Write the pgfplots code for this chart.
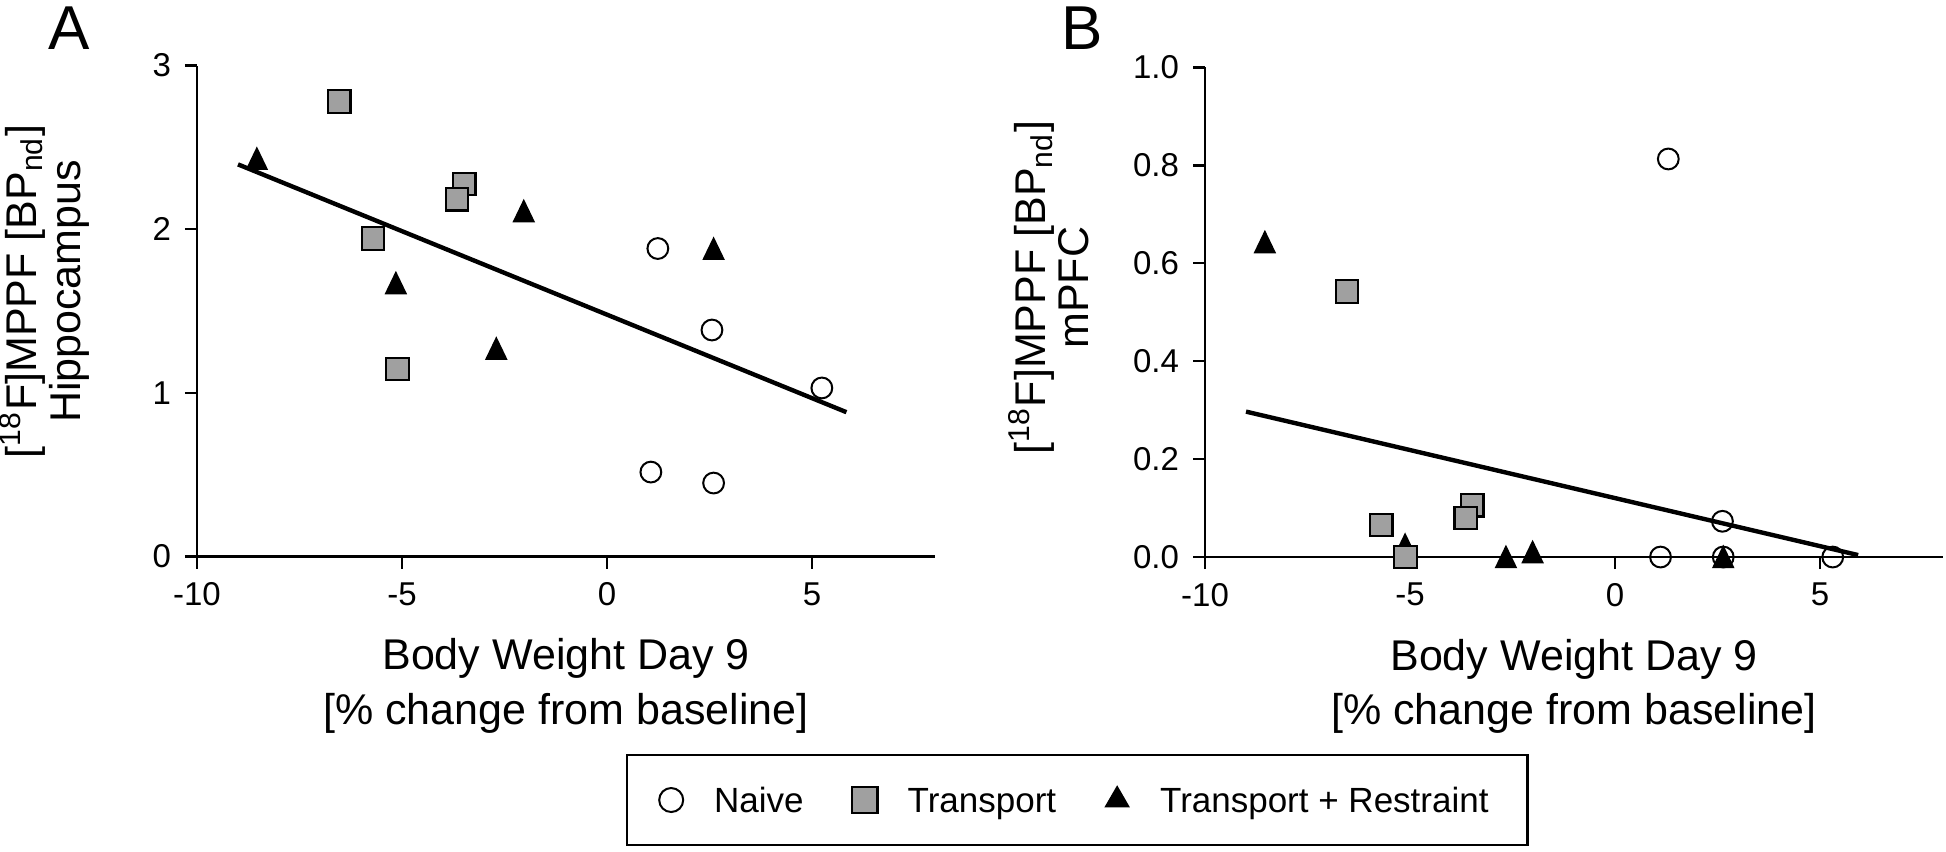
\documentclass[border=0pt]{standalone}
\usepackage{fontspec}
\setmainfont{Liberation Sans}
\usepackage{pgfplots}
\pgfplotsset{compat=1.18}
\definecolor{markgray}{RGB}{160,160,160}

\pgfplotsset{
  bwaxis/.style={
    scale only axis, width=184.5pt,
    xmin=-10, xmax=8, enlargelimits=false,
    axis lines*=left, axis line style={line width=0.6pt},
    tick align=outside, major tick length=3pt,
    tick style={black, line width=0.6pt},
    xtick={-10,-5,0,5}, xticklabels={-10,-5,0,5},
    ticklabel style={font=\fontsize{8.25}{9}\selectfont},
    clip=false,
    xlabel={Body Weight Day 9\\{[}\% change from baseline{]}},
    xlabel style={at={(axis description cs:0.5,-0.166)}, anchor=north,
      align=center, inner sep=0pt, font=\fontsize{10.75}{13.5}\selectfont},
    ylabel style={anchor=south, align=center, inner sep=0pt,
      font=\fontsize{10.75}{9}\selectfont},
  },
  naive/.style={only marks, mark=o, mark size=2.6pt, black,
    mark options={line width=0.5pt}},
  transport/.style={only marks, mark=square*, mark size=2.8pt,
    mark options={fill=markgray, draw=black, line width=0.55pt}},
  restraint/.style={only marks, mark=triangle*, mark size=2.9pt, black,
    mark options={yshift=-0.85pt, yscale=1.2}},
  fitline/.style={no marks, black, line width=1.1pt},
}

\begin{document}
\begin{tikzpicture}
\useasboundingbox (0,0) rectangle (486.5pt,-212.75pt);

\node[font=\fontsize{15.5}{18}\selectfont, anchor=base] at (17.25pt,-12.25pt) {A};
\node[font=\fontsize{15.5}{18}\selectfont, anchor=base] at (270.5pt,-12.25pt) {B};

% panel A: hippocampus
\begin{axis}[
    bwaxis,
    at={(49.25pt,-139.125pt)}, anchor=south west,
    height=122.75pt,
    ymin=0, ymax=3,
    ytick={0,1,2,3}, yticklabels={0,1,2,3},
    ylabel={[\textsuperscript{18}F]MPPF [BP\textsubscript{nd}]\\Hippocampus},
    ylabel style={at={(axis description cs:-0.145,0.54)}},
    legend columns=3,
    legend image code/.code={\path[draw=none] (0pt,0pt) (12pt,0pt); \draw[#1] plot coordinates {(6pt,0pt)};},
    legend style={at={(axis description cs:0.5813,-0.4022)}, anchor=north west,
      draw=black, line width=0.6pt, inner xsep=5pt, inner ysep=8pt,
      nodes={inner xsep=4.75pt, inner ysep=0pt, text height=6.3pt, text depth=0pt,
        font=\fontsize{8.75}{10}\selectfont},
      /tikz/every even column/.append style={column sep=4.5pt}},
]
\addlegendimage{only marks, mark=o, mark size=3pt, black, mark options={line width=0.5pt}}
\addlegendentry{Naive}
\addlegendimage{only marks, mark=square*, mark size=3.2pt, mark options={fill=markgray, draw=black, line width=0.55pt}}
\addlegendentry{Transport}
\addlegendimage{only marks, mark=triangle*, mark size=3.1pt, black}
\addlegendentry{Transport + Restraint}

\addplot[naive, forget plot] coordinates {
    (1.24,1.882) (2.56,1.384) (5.24,1.030) (1.07,0.516) (2.60,0.449)
};
\addplot[restraint, forget plot] coordinates {
    (-8.54,2.43) (-2.03,2.11) (2.60,1.88) (-5.15,1.67) (-2.70,1.27)
};
\addplot[transport, forget plot] coordinates {
    (-6.53,2.78) (-3.48,2.276) (-3.66,2.183) (-5.71,1.943) (-5.11,1.146)
};
\addplot[fitline, forget plot] coordinates {(-9.00,2.396) (5.84,0.882)};
\end{axis}

% panel B: mPFC
\begin{axis}[
    bwaxis,
    at={(301.25pt,-139.25pt)}, anchor=south west,
    height=122.4pt,
    ymin=0, ymax=1,
    ytick={0,0.2,0.4,0.6,0.8,1.0},
    yticklabels={0.0,0.2,0.4,0.6,0.8,1.0},
    ylabel={[\textsuperscript{18}F]MPPF [BP\textsubscript{nd}]\\mPFC},
    ylabel style={at={(axis description cs:-0.156,0.55)}},
]
\addplot[naive] coordinates {
    (1.30,0.813) (2.62,0.073) (1.11,0) (2.64,0) (5.31,0)
};
\addplot[restraint] coordinates {
    (-8.54,0.643) (-5.12,0.025) (-2.66,0) (-2.01,0.01) (2.64,0)
};
\addplot[transport] coordinates {
    (-6.54,0.5425) (-3.48,0.1056) (-3.64,0.080) (-5.70,0.0656) (-5.11,0)
};
\addplot[fitline] coordinates {(-9.00,0.297) (5.93,0.004)};
\end{axis}
\end{tikzpicture}
\end{document}
